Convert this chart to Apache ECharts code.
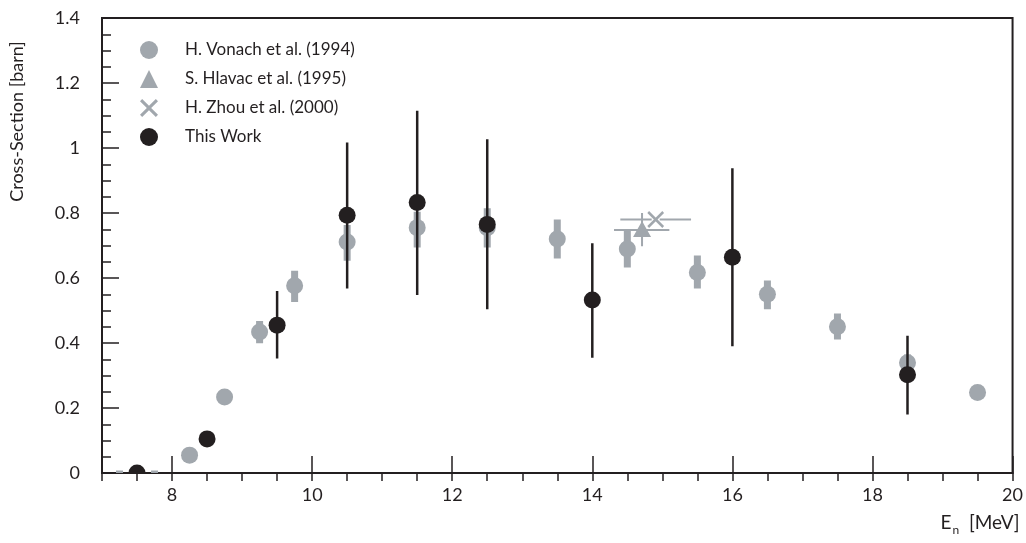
<!DOCTYPE html>
<html>
<head>
<meta charset="utf-8">
<script src="https://cdn.jsdelivr.net/npm/echarts@6/dist/echarts.min.js"></script>
<style>
  html, body { margin: 0; padding: 0; background: #fff; }
  #main { width: 1026px; height: 543px; }
</style>
</head>
<body>
<div id="main"></div>
<script>
// data: [En, sigma, sigmaLow, sigmaHigh, EnLow, EnHigh]
var vonach = [
  [7.25, -0.025, -0.055, 0.008],
  [7.75, -0.025, -0.055, 0.008],
  [8.25, 0.055, 0.045, 0.065],
  [8.75, 0.234, 0.222, 0.246],
  [9.25, 0.434, 0.399, 0.468],
  [9.75, 0.576, 0.526, 0.622],
  [10.5, 0.711, 0.653, 0.763],
  [11.5, 0.755, 0.694, 0.804],
  [12.5, 0.755, 0.694, 0.815],
  [13.5, 0.72, 0.66, 0.78],
  [14.5, 0.689, 0.632, 0.745],
  [15.5, 0.617, 0.568, 0.669],
  [16.5, 0.55, 0.504, 0.592],
  [17.5, 0.45, 0.411, 0.491],
  [18.5, 0.339, 0.31, 0.365],
  [19.5, 0.248, 0.235, 0.26]
];
var hlavac = [
  [14.71, 0.748, 0.698, 0.8, 14.31, 15.1]
];
var zhou = [
  [14.905, 0.78, 0.772, 0.788, 14.4, 15.41]
];
var thisWork = [
  [7.5, 0.0, 0.0, 0.0],
  [8.5, 0.105, 0.1, 0.11],
  [9.5, 0.455, 0.352, 0.56],
  [10.5, 0.793, 0.568, 1.017],
  [11.5, 0.832, 0.548, 1.115],
  [12.5, 0.765, 0.504, 1.027],
  [14.0, 0.532, 0.355, 0.707],
  [16.0, 0.664, 0.39, 0.938],
  [18.5, 0.302, 0.18, 0.422]
];
var xLabels = [8, 10, 12, 14, 16, 18, 20];
var legendNames = ['H. Vonach et al. (1994)', 'S. Hlavac et al. (1995)', 'H. Zhou et al. (2000)', 'This Work'];

var GRAY = '#a1a7ad';
var BLACK = '#231f20';
var FONT = 'Lato';

var myChart = echarts.init(document.getElementById('main'));

// keep marks inside the plot frame
function clipped(params, children) {
  var cs = params.coordSys;
  return {
    type: 'group',
    clipPath: { type: 'rect', shape: { x: cs.x, y: cs.y, width: cs.width, height: cs.height } },
    children: children
  };
}

function vonachItem(params, api) {
  var c = api.coord([api.value(0), api.value(1)]);
  var lo = api.coord([api.value(0), api.value(2)]);
  var hi = api.coord([api.value(0), api.value(3)]);
  return clipped(params, [
    { type: 'rect', shape: { x: c[0] - 3.5, y: hi[1], width: 7, height: lo[1] - hi[1] }, style: { fill: GRAY } },
    { type: 'circle', shape: { cx: c[0], cy: c[1], r: 8.5 }, style: { fill: GRAY } }
  ]);
}
function hlavacItem(params, api) {
  var c = api.coord([api.value(0), api.value(1)]);
  var lo = api.coord([api.value(0), api.value(2)]);
  var hi = api.coord([api.value(0), api.value(3)]);
  var l = api.coord([api.value(4), api.value(1)]);
  var r = api.coord([api.value(5), api.value(1)]);
  var s = 9;
  return clipped(params, [
    { type: 'line', shape: { x1: c[0], y1: lo[1], x2: c[0], y2: hi[1] }, style: { stroke: GRAY, lineWidth: 2 } },
    { type: 'line', shape: { x1: l[0], y1: c[1], x2: r[0], y2: c[1] }, style: { stroke: GRAY, lineWidth: 2 } },
    { type: 'polygon', shape: { points: [[c[0], c[1] - s], [c[0] + s, c[1] + s * 0.8], [c[0] - s, c[1] + s * 0.8]] }, style: { fill: GRAY } }
  ]);
}
function zhouItem(params, api) {
  var c = api.coord([api.value(0), api.value(1)]);
  var l = api.coord([api.value(4), api.value(1)]);
  var r = api.coord([api.value(5), api.value(1)]);
  var s = 7.5;
  return clipped(params, [
    { type: 'line', shape: { x1: l[0], y1: c[1], x2: c[0] - 4, y2: c[1] }, style: { stroke: GRAY, lineWidth: 2 } },
    { type: 'line', shape: { x1: c[0] + 4, y1: c[1], x2: r[0], y2: c[1] }, style: { stroke: GRAY, lineWidth: 2 } },
    { type: 'line', shape: { x1: c[0] - s, y1: c[1] - s, x2: c[0] + s, y2: c[1] + s }, style: { stroke: GRAY, lineWidth: 2.5 } },
    { type: 'line', shape: { x1: c[0] - s, y1: c[1] + s, x2: c[0] + s, y2: c[1] - s }, style: { stroke: GRAY, lineWidth: 2.5 } }
  ]);
}
function thisWorkItem(params, api) {
  var c = api.coord([api.value(0), api.value(1)]);
  var lo = api.coord([api.value(0), api.value(2)]);
  var hi = api.coord([api.value(0), api.value(3)]);
  return clipped(params, [
    { type: 'line', shape: { x1: c[0], y1: lo[1], x2: c[0], y2: hi[1] }, style: { stroke: BLACK, lineWidth: 2.5 } },
    { type: 'circle', shape: { cx: c[0], cy: c[1], r: 8.5 }, style: { fill: BLACK } }
  ]);
}

var option = {
  animation: false,
  backgroundColor: '#fff',
  textStyle: { fontFamily: FONT },
  grid: {
    left: 102, right: 13, top: 18, bottom: 70,
    show: true, borderColor: BLACK, borderWidth: 2, backgroundColor: 'transparent'
  },
  legend: {
    orient: 'vertical',
    left: 135, top: 36,
    itemWidth: 18, itemHeight: 18, itemGap: 11,
    textStyle: { fontFamily: FONT, fontSize: 17, color: BLACK, padding: [0, 0, 0, 22] },
    data: [
      { name: legendNames[0], icon: 'circle', itemStyle: { color: GRAY } },
      { name: legendNames[1], icon: 'triangle', itemStyle: { color: GRAY } },
      { name: legendNames[2], icon: 'path://M0,1.2L1.2,0L5,3.8L8.8,0L10,1.2L6.2,5L10,8.8L8.8,10L5,6.2L1.2,10L0,8.8L3.8,5Z', itemStyle: { color: GRAY } },
      { name: legendNames[3], icon: 'circle', itemStyle: { color: BLACK } }
    ]
  },
  xAxis: [
    {
      type: 'value', min: 7, max: 20,
      name: '{a|E}{b|n}{a|  [MeV]}',
      nameLocation: 'end', nameGap: 7,
      nameTextStyle: {
        align: 'right', verticalAlign: 'top', padding: [36, 0, 0, 0],
        rich: {
          a: { fontFamily: FONT, fontSize: 19, color: BLACK },
          b: { fontFamily: FONT, fontSize: 12, color: BLACK, padding: [15, 0, 0, 1] }
        }
      },
      axisLine: { show: true, onZero: false, lineStyle: { color: BLACK, width: 2 } },
      axisTick: { show: true, inside: true, length: 17, customValues: xLabels, lineStyle: { color: BLACK, width: 1.5 } },
      axisLabel: { customValues: xLabels, fontFamily: FONT, fontSize: 18, color: BLACK, margin: 13 },
      splitLine: { show: false }
    },
    {
      type: 'value', min: 7, max: 20, interval: 0.5,
      axisLine: { show: false },
      axisTick: { show: true, inside: true, length: 8, lineStyle: { color: BLACK, width: 1.5 } },
      axisLabel: { show: false },
      splitLine: { show: false }
    }
  ],
  yAxis: {
    type: 'value', min: 0, max: 1.4, interval: 0.2,
    name: 'Cross-Section [barn]',
    nameLocation: 'middle', nameGap: 76, nameRotate: 90,
    nameTextStyle: { fontFamily: FONT, fontSize: 18, color: BLACK, padding: [0, 0, 0, 248] },
    axisLine: { show: true, lineStyle: { color: BLACK, width: 2 } },
    axisTick: { show: true, inside: true, length: 17, lineStyle: { color: BLACK, width: 1.5 } },
    minorTick: { show: true, splitNumber: 4, length: 9, lineStyle: { color: BLACK, width: 1.5 } },
    axisLabel: { fontFamily: FONT, fontSize: 18, color: BLACK, margin: 22 },
    splitLine: { show: false }
  },
  series: [
    { name: legendNames[0], type: 'custom', clip: true, itemStyle: { color: GRAY }, renderItem: vonachItem, encode: { x: 0, y: 1 }, data: vonach },
    { name: legendNames[1], type: 'custom', clip: true, itemStyle: { color: GRAY }, renderItem: hlavacItem, encode: { x: 0, y: 1 }, data: hlavac },
    { name: legendNames[2], type: 'custom', clip: true, itemStyle: { color: GRAY }, renderItem: zhouItem, encode: { x: 0, y: 1 }, data: zhou },
    { name: legendNames[3], type: 'custom', clip: true, itemStyle: { color: BLACK }, renderItem: thisWorkItem, encode: { x: 0, y: 1 }, data: thisWork }
  ]
};
myChart.setOption(option);
window.addEventListener('resize', function () { myChart.resize(); });
</script>
</body>
</html>
